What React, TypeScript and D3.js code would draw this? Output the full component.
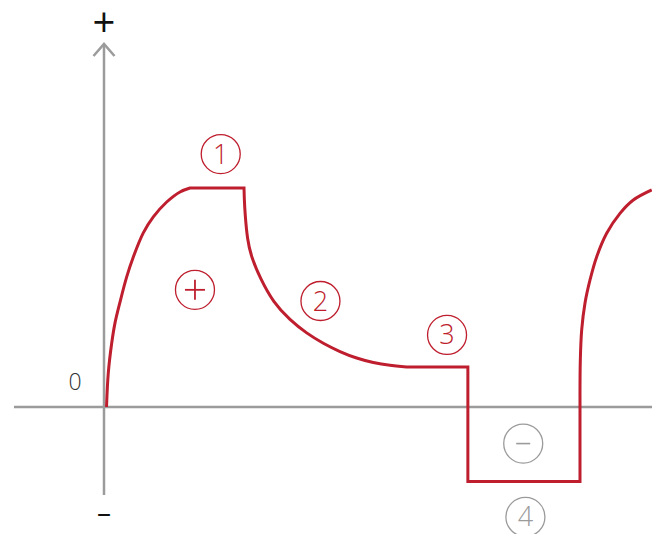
import React from 'react';
import * as d3 from 'd3';

// time (arbitrary units) and response values
const riseT = [0.46, 0.78, 1.41, 2.01, 2.92, 4.14, 5.35, 7.17, 9.0, 11.44, 13.87, 15.69];
const riseV = [0, 0.155, 0.292, 0.384, 0.479, 0.594, 0.685, 0.795, 0.868, 0.936, 0.982, 1];
const plateauT = [15.69, 25.55];
const plateauV = [1, 1];
const decayT = [25.55, 25.6, 25.73, 26.15, 26.95, 28.47, 30.89, 33.94, 36.99, 40.02, 43.07, 46.11, 49.14, 52.19, 55.24];
const decayV = [1, 0.95, 0.886, 0.763, 0.68, 0.59, 0.477, 0.397, 0.336, 0.29, 0.252, 0.222, 0.202, 0.19, 0.183];
const stepT = [55.24, 66.4, 66.4, 86.86, 86.86];
const stepV = [0.183, 0.183, -0.34, -0.34, 0.05];
const reriseT = [86.86, 86.92, 87.17, 87.77, 88.69, 89.91, 91.73, 94.16, 96.59, 99.95];
const reriseV = [0.05, 0.215, 0.352, 0.474, 0.58, 0.686, 0.793, 0.884, 0.945, 0.991];

const labelText = ['1', '+', '2', '3', '−', '4'];
const labelT = [21.3, 16.6, 39.5, 62.6, 76.5, 76.9];
const labelV = [1.155, 0.535, 0.484, 0.329, -0.167, -0.502];
const labelTone = ['red', 'red', 'red', 'red', 'gray', 'gray'];

const W = 652;
const H = 534;
const RED = '#be1e2d';
const GRAY = '#9b9b9b';
const FONT = '"Open Sans", "Noto Sans", sans-serif';

export default function App() {
  const x = d3.scaleLinear().domain([0, 100]).range([104, 652]);
  const y = d3.scaleLinear().domain([0, 1]).range([407, 188]);

  const zip = (ts: number[], vs: number[]): [number, number][] => ts.map((t, i) => [t, vs[i]]);
  const smooth = d3.line<[number, number]>().x(d => x(d[0])).y(d => y(d[1])).curve(d3.curveCatmullRom.alpha(0.5));
  const soft = d3.line<[number, number]>().x(d => x(d[0])).y(d => y(d[1])).curve(d3.curveBasis);
  const straight = d3.line<[number, number]>().x(d => x(d[0])).y(d => y(d[1]));

  // join the pieces into one path so the corners stay sharp
  const pieces = [
    smooth(zip(riseT, riseV)) as string,
    straight(zip(plateauT, plateauV)) as string,
    soft(zip(decayT, decayV)) as string,
    straight(zip(stepT, stepV)) as string,
    smooth(zip(reriseT, reriseV)) as string,
  ];
  const d = pieces.map((p, i) => (i === 0 ? p : 'L' + p.slice(1))).join('');

  const yAxisX = x(0);

  return (
    <svg width={W} height={H} style={{ position: 'absolute', left: 0, top: 0 }}>
      {/* axes */}
      <line x1={14} x2={652} y1={y(0)} y2={y(0)} stroke={GRAY} strokeWidth={2.5} />
      <line x1={yAxisX} x2={yAxisX} y1={45} y2={495} stroke={GRAY} strokeWidth={2.5} />
      <polyline points={`${yAxisX - 10.5},${56} ${yAxisX},${44} ${yAxisX + 10.5},${56}`} fill="none" stroke={GRAY} strokeWidth={2.5} />
      <text x={yAxisX} y={37} textAnchor="middle" fontFamily={FONT} fontWeight={400} fontSize={40} fill="#111">+</text>
      <text x={yAxisX} y={522} textAnchor="middle" fontFamily={FONT} fontWeight={400} fontSize={28} fill="#111">–</text>
      <text x={yAxisX - 29} y={390} textAnchor="middle" fontFamily={FONT} fontWeight={300} fontSize={23} fill="#333">0</text>

      {/* response curve */}
      <path d={d} fill="none" stroke={RED} strokeWidth={3} strokeLinejoin="miter" />

      {/* circled markers */}
      {labelText.map((t, i) => {
        const cx = x(labelT[i]);
        const cy = y(labelV[i]);
        const c = labelTone[i] === 'red' ? RED : GRAY;
        return (
          <g key={i}>
            <circle cx={cx} cy={cy} r={19.5} fill="white" stroke={c} strokeWidth={1.3} />
            {t === '+' ? (
              <g stroke={c} strokeWidth={1.8}>
                <line x1={cx - 10} x2={cx + 10} y1={cy} y2={cy} />
                <line x1={cx} x2={cx} y1={cy - 10} y2={cy + 10} />
              </g>
            ) : t === '−' ? (
              <line x1={cx - 7} x2={cx + 7} y1={cy} y2={cy} stroke={c} strokeWidth={1.6} />
            ) : (
              <text x={cx} y={cy + 9.5} textAnchor="middle" fontFamily={FONT} fontWeight={300} fontSize={27} fill={c}>{t}</text>
            )}
          </g>
        );
      })}
    </svg>
  );
}
